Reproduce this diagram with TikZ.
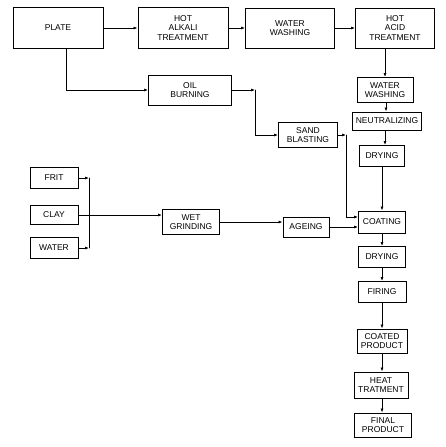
\documentclass[tikz,border=0pt]{standalone}
\usepackage{fontspec}
\setmainfont{Liberation Sans}
\usetikzlibrary{arrows.meta,calc}

\begin{document}
\begin{tikzpicture}[x=1pt,y=-1pt,line cap=round]
  % Styles
  \tikzset{
    box/.style={draw,line width=1pt,align=center,inner sep=1pt,
      font=\fontsize{8.5}{9.5}\selectfont},
    flow/.style={line width=0.7pt,-{Latex[length=4pt,width=3pt]}},
    feed/.style={line width=0.7pt}
  }
  \useasboundingbox (0,0) rectangle (446,447);

  % Top row
  \node[box,minimum width=90,minimum height=41] (plate) at (58,28) {PLATE};
  \node[box,minimum width=90,minimum height=41] (alkali) at (183,28) {HOT\\ALKALI\\TREATMENT};
  \node[box,minimum width=89,minimum height=40] (wash) at (290,28) {WATER\\WASHING};
  \node[box,minimum width=79,minimum height=40] (acid) at (395,28) {HOT\\ACID\\TREATMENT};

  % Plate pretreatment branch
  \node[box,minimum width=83,minimum height=30] (oil) at (190,90) {OIL\\BURNING};
  \node[box,minimum width=59,minimum height=25] (sand) at (308,135) {SAND\\BLASTING};
  \coordinate (oilturn) at (255,90);
  \coordinate (sandturn) at (346,135);

  % Acid branch
  \node[box,minimum width=56,minimum height=25] (washb) at (385,90) {WATER\\WASHING};
  \node[box,minimum width=69,minimum height=18] (neutral) at (387,121) {NEUTRALIZING};
  \node[box,minimum width=45,minimum height=21] (dryA) at (382,156) {DRYING};

  % Slip preparation
  \node[box,minimum width=48,minimum height=21] (frit) at (54,178) {FRIT};
  \node[box,minimum width=48,minimum height=19] (clay) at (54,215) {CLAY};
  \node[box,minimum width=48,minimum height=21] (water) at (54,248) {WATER};
  \node[box,minimum width=57,minimum height=25] (wetgr) at (191,222) {WET\\GRINDING};
  \node[box,minimum width=46,minimum height=20] (ageing) at (306,227) {AGEING};
  \coordinate (fritin) at (89,178);
  \coordinate (waterin) at (89,248);

  % Main line
  \node[box,minimum width=47,minimum height=22] (coat) at (382,222) {COATING};
  \node[box,minimum width=47,minimum height=21] (dryB) at (382,257) {DRYING};
  \node[box,minimum width=48,minimum height=21] (firing) at (382,292) {FIRING};
  \node[box,minimum width=50,minimum height=24] (coated) at (382,341) {COATED\\PRODUCT};
  \node[box,minimum width=54,minimum height=26] (heat) at (381,385) {HEAT\\TRATMENT};
  \node[box,minimum width=57,minimum height=24] (final) at (383,425) {FINAL\\PRODUCT};

  % Connectors
  \draw[flow] (plate) -- (alkali);
  \draw[flow] (alkali) -- (wash);
  \draw[flow] (wash) -- (acid);
  \draw[flow] (washb |- acid.south) -- (washb);
  \draw[flow] (washb.south -| 386,0) -- (neutral.north -| 386,0);
  \draw[flow] (neutral.south -| 385,0) -- (dryA.north -| 385,0);
  \draw[flow] (dryA) -- (dryA |- coat.north);

  \draw[flow] ([xshift=8pt]plate.south) |- (oil);
  \draw[flow] (oil) -- (oilturn);
  \draw[flow] (oilturn) |- (sand);
  \draw[flow] (sand) -- (sandturn);
  \draw[flow] (sandturn) |- ([yshift=5pt]coat.west);

  \draw[flow] (frit) -- (fritin);
  \draw[flow] (water) -- (waterin);
  \draw[feed] (fritin) -- (waterin);
  \draw[flow] (clay) -- (clay -| wetgr.west);
  \draw[flow] (wetgr) -- (wetgr -| ageing.west);
  \draw[flow] (ageing) -- (ageing -| coat.west);

  \draw[flow] (coat) -- (coat |- dryB.north);
  \draw[flow] (dryB) -- (dryB |- firing.north);
  \draw[flow] (firing) -- (firing |- coated.north);
  \draw[flow] (coated) -- (coated |- heat.north);
  \draw[flow] (heat.south -| 382,0) -- (final.north -| 382,0);
\end{tikzpicture}
\end{document}
